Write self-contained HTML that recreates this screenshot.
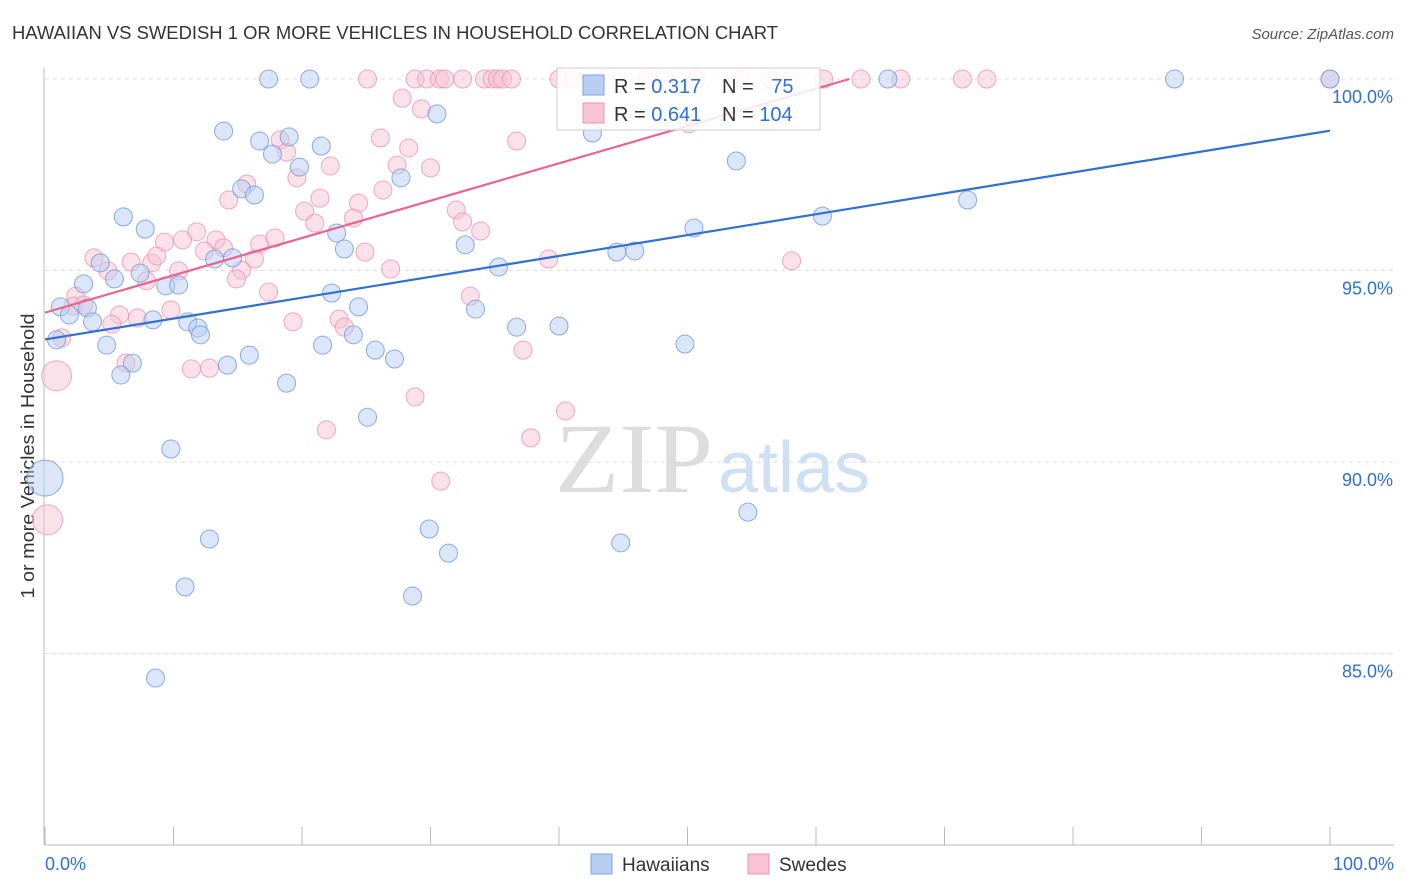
<!DOCTYPE html>
<html><head><meta charset="utf-8"><style>
body{margin:0;background:#fff;font-family:"Liberation Sans",sans-serif}
svg{display:block}
</style></head><body>
<svg id="chart" width="1406" height="892" xmlns="http://www.w3.org/2000/svg">
<text x="12" y="39" font-size="18" textLength="766" lengthAdjust="spacingAndGlyphs" fill="#333">HAWAIIAN VS SWEDISH 1 OR MORE VEHICLES IN HOUSEHOLD CORRELATION CHART</text>
<text x="1394" y="39" font-size="15" fill="#555" font-style="italic" text-anchor="end">Source: ZipAtlas.com</text>
<text x="0" y="0" transform="translate(34,456) rotate(-90)" font-size="18" textLength="285" lengthAdjust="spacingAndGlyphs" fill="#333" text-anchor="middle">1 or more Vehicles in Household</text>
<g id="grid"></g>
<text x="555" y="492" font-size="100" textLength="158" lengthAdjust="spacingAndGlyphs" font-family="Liberation Serif,serif" fill="#ddd">ZIP</text>
<text x="718" y="492" font-size="72" fill="#cfe0f3">atlas</text>
<g id="pts"></g>
<g id="lines"></g>
<g>
<rect x="557" y="68" width="263" height="62" fill="#fff" fill-opacity="0.85" stroke="#ccc"/>
<rect x="583" y="75" width="21" height="20" fill="#b8cef2" stroke="#7fa3e0"/>
<rect x="583" y="103" width="21" height="20" fill="#f8c4d4" stroke="#eb94b0"/>
<text x="614" y="93" font-size="20" fill="#333">R = <tspan fill="#2f6fd6">0.317</tspan></text>
<text x="722" y="93" font-size="20" fill="#333">N = <tspan fill="#2f6fd6" dx="12">75</tspan></text>
<text x="614" y="121" font-size="20" fill="#333">R = <tspan fill="#2f6fd6">0.641</tspan></text>
<text x="722" y="121" font-size="20" fill="#333">N = <tspan fill="#2f6fd6">104</tspan></text>
</g>
<g>
<rect x="591" y="854" width="21" height="20" fill="#b8cef2" stroke="#7fa3e0"/>
<text x="622" y="871" font-size="19" fill="#333">Hawaiians</text>
<rect x="748" y="854" width="21" height="20" fill="#f8c4d4" stroke="#eb94b0"/>
<text x="779" y="871" font-size="19" fill="#333">Swedes</text>
</g>
<text x="45" y="870" font-size="18" fill="#2f6fd6">0.0%</text>
<text x="1394" y="870" font-size="18" fill="#2f6fd6" text-anchor="end">100.0%</text>
</svg>
<script>
const yTicks=[100,95,90,85];
const yTickLabels=["100.0%","95.0%","90.0%","85.0%"];
const blueX=[17.4,20.6,65.6,87.9,100,13.9,16.7,19.0,17.7,21.5,30.5,42.6,53.8,19.8,27.7,15.3,16.3,6.1,7.8,22.7,32.7,23.3,44.5,45.9,50.5,60.5,71.8,35.3,13.2,14.6,4.3,3.0,5.4,7.4,9.4,10.4,22.3,1.2,1.9,3.3,3.7,8.4,11.1,11.9,12.1,24.4,24.0,33.5,36.7,40.0,0.9,4.8,21.6,25.7,27.2,49.8,15.9,14.2,6.8,5.9,18.8,25.1,9.8,0,12.8,29.9,31.4,44.8,54.7,10.9,28.6,8.6];
const blueY=[100,100,100,100,100,98.64,98.38,98.49,98.04,98.25,99.09,98.59,97.86,97.70,97.42,97.13,96.97,96.40,96.08,95.98,95.67,95.56,95.48,95.51,96.11,96.42,96.84,95.09,95.30,95.33,95.20,94.65,94.78,94.93,94.60,94.62,94.41,94.05,93.84,94.02,93.66,93.71,93.66,93.50,93.32,94.05,93.32,93.99,93.52,93.55,93.19,93.05,93.05,92.92,92.69,93.08,92.79,92.53,92.58,92.27,92.06,91.17,90.34,89.58,87.99,88.25,87.62,87.89,88.69,86.74,86.50,84.36];
const blueBig=[63];
const pinkX=[25.1,28.8,29.7,30.7,31.1,32.5,34.2,34.8,35.2,35.6,36.3,40.0,41.1,43.6,46.8,48.2,50.7,54.1,56.4,60.6,63.5,66.6,71.4,73.3,100,27.8,29.3,26.1,28.3,18.3,18.8,36.7,50.1,19.6,22.2,27.4,30.0,26.3,15.7,14.3,21.4,24.4,20.2,21.0,24.0,32.0,32.5,33.9,11.8,9.3,10.7,13.3,13.9,16.7,17.9,12.4,3.8,6.7,8.3,8.7,16.3,24.9,26.9,39.2,58.1,4.9,7.9,10.4,15.3,14.9,2.4,2.2,3.0,5.8,7.2,5.2,9.8,17.4,19.3,22.9,23.3,33.1,1.3,37.2,6.3,11.4,12.8,0.9,28.8,21.9,37.8,40.5,30.8,0.2];
const pinkY=[100,100,100,100,100,100,100,100,100,100,100,100,100,100,100,100,100,100,100,100,100,100,100,100,100,99.50,99.22,98.46,98.20,98.41,98.09,98.38,98.83,97.42,97.73,97.75,97.68,97.10,97.26,96.84,96.89,96.76,96.55,96.24,96.37,96.58,96.27,96.03,96.01,95.74,95.80,95.80,95.59,95.69,95.85,95.51,95.33,95.22,95.20,95.38,95.30,95.48,95.04,95.30,95.25,94.99,94.73,94.99,95.01,94.78,94.33,94.07,94.10,93.84,93.76,93.60,93.97,94.44,93.66,93.73,93.52,94.33,93.24,92.92,92.58,92.43,92.45,92.25,91.70,90.84,90.63,91.33,89.50,88.49];
const pinkBig=[87,93];
const blueTrend=[[0,93.2],[100,98.65]];
const pinkTrend=[[0,93.9],[62.6,100]];
const NS="http://www.w3.org/2000/svg";
const X=v=>45+v*12.85, Y=v=>79+(100-v)*38.3;
function mk(t,a,p){const e=document.createElementNS(NS,t);for(const k in a)e.setAttribute(k,a[k]);p.appendChild(e);return e;}
const grid=document.getElementById('grid');
yTicks.forEach((t,i)=>{
 const l=mk('line',{x1:45,x2:1394,y1:Y(t),y2:Y(t),stroke:'#ddd','stroke-dasharray':'4,4'},grid);
 
 
 const tx=mk('text',{x:1393,y:Y(t)+24,'font-size':18,fill:'#2f6fd6','text-anchor':'end'},grid);
 tx.textContent=yTickLabels[i];
 
 
});
const ax=mk('line',{x1:44,x2:44,y1:68,y2:845,stroke:'#bbb'},grid);


const bx=mk('line',{x1:44,x2:1394,y1:845,y2:845,stroke:'#bbb'},grid);


for(let i=0;i<=10;i++){const t=mk('line',{x1:X(i*10),x2:X(i*10),y1:827,y2:845,stroke:'#bbb'},grid);
 
 }
const pts=document.getElementById('pts');
pinkX.forEach((x,i)=>{const c=mk('circle',{cx:X(x),cy:Y(pinkY[i]),r:pinkBig.includes(i)?15:9,fill:'#f8c4d4','fill-opacity':0.5,stroke:'#eb94b0','stroke-opacity':0.8},pts);
 
 });
blueX.forEach((x,i)=>{const c=mk('circle',{cx:X(x),cy:Y(blueY[i]),r:blueBig.includes(i)?18:9,fill:'#b8cef2','fill-opacity':0.5,stroke:'#6f98dc','stroke-opacity':0.8},pts);
 
 });
const lines=document.getElementById('lines');
const bl=mk('line',{x1:X(blueTrend[0][0]),y1:Y(blueTrend[0][1]),x2:X(blueTrend[1][0]),y2:Y(blueTrend[1][1]),stroke:'#2f6fd6','stroke-width':2.2},lines);


const pl=mk('line',{x1:X(pinkTrend[0][0]),y1:Y(pinkTrend[0][1]),x2:X(pinkTrend[1][0]),y2:Y(pinkTrend[1][1]),stroke:'#e8648e','stroke-width':2.2},lines);


</script>
</body></html>
